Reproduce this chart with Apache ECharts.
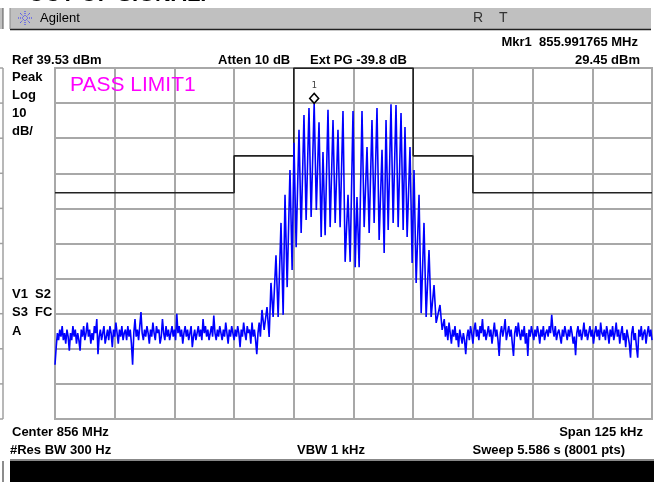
<!DOCTYPE html>
<html><head><meta charset="utf-8">
<script src="https://cdn.jsdelivr.net/npm/echarts@6/dist/echarts.min.js"></script>
<style>html,body{margin:0;padding:0;background:#fff}#c{width:658px;height:482px}</style>
</head><body><div id="c"></div>
<script>
// ---- instrument settings ----
const refLevel = 39.53;      // dBm (top of graticule)
const dbPerDiv = 10;
const spanKHz = 125;         // centre 856 MHz, axis in kHz offset
// ---- measured trace (dBm) ----
const leftNoiseStart = -62.5;   // kHz
const rightNoiseStart = 18.75;  // kHz
const noiseStep = 0.25;         // kHz between samples
const leftNoise = [
 -45,-40,-36,-38,-35,-37,-34,-38,-36,-39,
 -35,-37,-41,-36,-38,-34,-37,-35,-39,-36,
 -38,-41,-35,-37,-34,-38,-36,-33,-37,-35,
 -39,-36,-38,-34,-36,-32,-42,-37,-35,-38,
 -36,-34,-39,-37,-35,-38,-34,-36,-40,-35,
 -37,-33,-36,-39,-35,-37,-34,-38,-36,-35,
 -38,-34,-37,-35,-39,-45,-36,-32,-37,-35,
 -38,-34,-30,-36,-38,-35,-37,-34,-36,-39,
 -35,-37,-33,-36,-38,-34,-36,-35,-39,-37,
 -32,-36,-38,-34,-37,-35,-38,-36,-34,-37,
 -35,-38,-30.5,-36,-34,-37,-35,-39,-36,-34,
 -37,-35,-38,-36,-34,-40,-37,-35,-38,-36,
 -34,-37,-35,-38,-32,-36,-34,-37,-35,-38,
 -36,-34,-37,-31,-36,-38,-35,-37,-34,-36,
 -38,-35,-37,-33,-36,-39,-35,-37,-34,-36,
 -38,-35,-37,-34,-36,-40,-35,-37,-33,-36,
 -38,-34,-36,-35,-39,-33,-37,-35,-38,-42,
 -36,-33,-37
];
const rightNoise = [
 -35,-32,-37,-34,-38,-33,-36,-39,-35,-37,
 -34,-38,-36,-40,-35,-37,-39,-36,-38,-42,
 -37,-35,-38,-34,-36,-39,-35,-33,-37,-35,
 -38,-34,-36,-32,-37,-35,-38,-36,-34,-37,
 -35,-39,-36,-33,-37,-35,-38,-42.5,-36,-34,
 -37,-35,-32,-38,-36,-34,-37,-35,-39,-42.5,
 -36,-34,-37,-33,-36,-38,-35,-37,-34,-39,
 -36,-42.5,-35,-37,-34,-36,-38,-35,-37,-34,
 -36,-39,-35,-37,-34,-38,-36,-35,-37,-34,
 -36,-30.8,-35,-37,-34,-38,-36,-35,-37,-39,
 -35,-37,-34,-36,-38,-35,-37,-34,-36,-39,
 -37,-42.3,-36,-34,-37,-35,-38,-36,-33,-37,
 -35,-38,-36,-34,-37,-35,-39,-36,-34,-37,
 -35,-38,-33,-36,-37,-35,-38,-34,-36,-39,
 -35,-37,-34,-38,-36,-33,-37,-35,-39,-36,
 -34,-38,-36,-40,-35,-37,-39,-43,-36,-34,
 -38,-36,-40,-43,-35,-37,-34,-38,-36,-35,
 -39,-36,-34,-37,-35,-38
];
// comb lines of the signal: frequency (kHz), peak level and following trough level (dBm)
const bandFreq = [-19.16,-18.11,-17.28,-16.23,-15.18,-14.34,-13.30,-12.46,-11.41,-10.37,
 -9.32,-8.235,-7.22,-6.39,-5.34,-4.29,-3.25,-2.20,-1.15,-0.10,
 0.73,1.78,2.83,3.87,4.92,5.97,6.81,7.85,8.90,9.95,
 10.78,11.83,12.67,13.72,14.76,15.81,16.86,18.11];
const bandPeak = [-29.4,-28.6,-21.7,-13.8,-4.6,3.4,10.5,18.2,21.9,26.1,
 28.1,29.45,24.1,15.6,27.6,24.7,21.9,27.3,3.4,27.3,
 2.8,27.3,17.0,24.7,28.1,16.2,24.7,29.2,29.0,26.7,
 22.7,17.0,10.5,3.4,-4.6,-12.3,-22.3,-28.0];
const bandTrough = [-35.1,-37.1,-31.4,-31.4,-30.8,-22.9,-18.0,-11.5,-7.5,-3.8,
 -2.9,-0.9,-8.6,-8.1,-5.8,-4.6,-5.8,-15.7,-15.7,-17.2,
 -17.2,-5.8,-7.5,-4.6,-9.5,-13.2,-6.6,-4.6,-5.8,-6.6,
 -8.6,-16.0,-21.7,-30.3,-31.4,-31.4,-33.1,-35.1];
const troughOffset = 0.45; // kHz after each peak
const holdWidth = 0.15;    // kHz each peak / trough level is held
// limit line
const limitFreq  = [-62.5,-25,-25,-12.5,-12.5,12.5,12.5,25,25,62.5];
const limitLevel = [4,4,14.5,14.5,39.5,39.5,14.5,14.5,4,4];
// marker
const markerFreq = -8.235, markerLevel = 29.45, markerName = '1';

const trace = [];
leftNoise.forEach((v,i)=>trace.push([leftNoiseStart+i*noiseStep, v]));
bandFreq.forEach((f,i)=>{
  trace.push([f, bandPeak[i]]); trace.push([f+holdWidth, bandPeak[i]]);
  trace.push([f+troughOffset, bandTrough[i]]); trace.push([f+troughOffset+holdWidth, bandTrough[i]]);
});
rightNoise.forEach((v,i)=>trace.push([rightNoiseStart+i*noiseStep, v]));
const limit = limitFreq.map((f,i)=>[f, limitLevel[i]]);

const BF = 'bold 13px "Liberation Sans", Arial, sans-serif';
function T(text, x, y, align, font, fill){
  return {type:'text', x:x, y:y, z:10, style:{text:text, font:font||BF, fill:fill||'#000', align:align||'left', verticalAlign:'middle'}};
}
function L(x1,y1,x2,y2,stroke,w,dash){
  return {type:'line', z:5, shape:{x1:x1,y1:y1,x2:x2,y2:y2}, style:{stroke:stroke, lineWidth:w, lineDash:dash||null}};
}
const graphics = [
  // partially visible title above
  {type:'text', x:28, y:6.3, z:10, style:{text:'OUT OF SIGNAL.', font:'bold 22px "Liberation Sans", Arial, sans-serif', fill:'#000', align:'left', verticalAlign:'bottom'}},
  // header bar
  {type:'rect', z:4, shape:{x:10,y:8,width:641,height:21}, style:{fill:'#c0c0c0'}},
  {type:'rect', z:4, shape:{x:0,y:8,width:3,height:21}, style:{fill:'#c0c0c0'}},
  L(3,8,3,29,'#555',1),
  L(10,29.5,651,29.5,'#222',1.5),
  L(10,8,10,29,'#888',1),
  T('Agilent', 40, 18, 'left', '13px "Liberation Sans", Arial, sans-serif', '#000'),
  T('R', 473, 18, 'left', '14px "Liberation Sans", Arial, sans-serif', '#333'),
  T('T', 499, 18, 'left', '14px "Liberation Sans", Arial, sans-serif', '#333'),
  // readouts
  T('Ref 39.53 dBm', 12, 60),
  T('Atten 10 dB', 218, 60),
  T('Ext PG -39.8 dB', 310, 60),
  T('Mkr1  855.991765 MHz', 638, 42, 'right'),
  T('29.45 dBm', 640, 60, 'right'),
  T('Peak', 12, 77), T('Log', 12, 95), T('10', 12, 113), T('dB/', 12, 131),
  T('V1  S2', 12, 294), T('S3  FC', 12, 312), T('A', 12, 331),
  T('Center 856 MHz', 12, 432),
  T('#Res BW 300 Hz', 10, 450),
  T('VBW 1 kHz', 297, 450),
  T('Span 125 kHz', 643, 432, 'right'),
  T('Sweep 5.586 s (8001 pts)', 625, 450, 'right'),
  T('PASS LIMIT1', 70, 85, 'left', '21px "Liberation Sans", Arial, sans-serif', '#ff00ff'),
  // bottom black bar
  {type:'rect', z:4, shape:{x:10,y:461,width:644,height:21}, style:{fill:'#000'}},
  L(10,460,654,460,'#888',2),
  L(3,461,3,482,'#666',1.5),
  // neighbouring window edge
  L(3,68,3,419,'#a0a0a0',1.5)
];
// logo spark
for (let k=0;k<8;k++){
  const a = k*Math.PI/4, cx=25, cy=18;
  graphics.push(L(cx+2*Math.cos(a), cy+2*Math.sin(a), cx+7*Math.cos(a), cy+7*Math.sin(a), '#3030ff', 1, [1,1]));
}
for (let k=0;k<=10;k++){
  const y = 68 + k*35.1;
  graphics.push(L(0,y,3,y,'#a0a0a0',1.5));
}

const chart = echarts.init(document.getElementById('c'), null, {renderer:'canvas'});
chart.setOption({
  animation:false,
  backgroundColor:'#fff',
  grid:{left:55, top:68, width:597, height:351, show:true, borderColor:'#a8a8a8', borderWidth:2},
  xAxis:{type:'value', min:-spanKHz/2, max:spanKHz/2, interval:spanKHz/10,
    axisLine:{show:false}, axisTick:{show:false}, axisLabel:{show:false},
    splitLine:{show:true, lineStyle:{color:'#a8a8a8', width:2}}},
  yAxis:[
    {type:'value', min:refLevel-10*dbPerDiv, max:refLevel, show:false},
    {type:'value', min:0, max:10, interval:1, position:'left',
      axisLine:{show:false}, axisTick:{show:false}, axisLabel:{show:false},
      splitLine:{show:true, lineStyle:{color:'#a8a8a8', width:2}}}
  ],
  series:[
    {type:'line', yAxisIndex:0, data:limit, showSymbol:false, silent:true,
      lineStyle:{color:'#222', width:1.6}, z:3},
    {type:'line', yAxisIndex:0, data:trace, showSymbol:false, silent:true,
      lineStyle:{color:'#0000ff', width:1.6}, z:4,
      markPoint:{symbol:'diamond', symbolSize:[9,10], symbolOffset:[0,-5], silent:true,
        itemStyle:{color:'#fff', borderColor:'#000', borderWidth:1.5},
        label:{show:true, position:'top', distance:2, formatter:markerName, color:'#444', fontSize:9, fontFamily:'DejaVu Sans Mono'},
        data:[{coord:[markerFreq, markerLevel]}]}}
  ],
  graphic:graphics
});
</script></body></html>
